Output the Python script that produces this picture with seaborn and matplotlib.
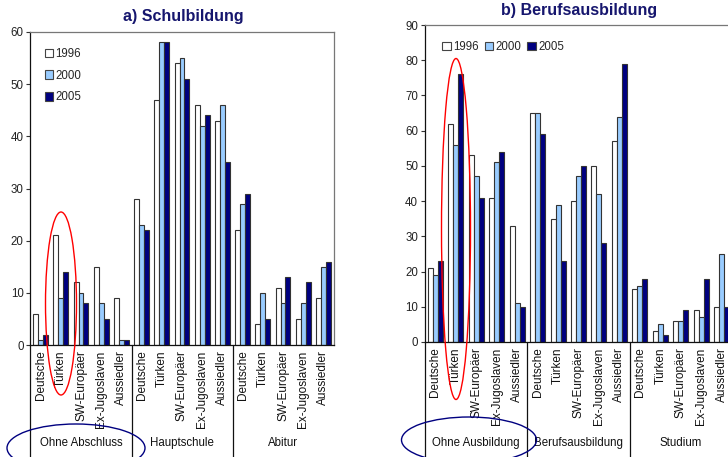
import matplotlib
matplotlib.use("Agg")
import matplotlib.pyplot as plt
import numpy as np
import pandas as pd
import seaborn as sns
from matplotlib.patches import Ellipse, Patch
from matplotlib.lines import Line2D
from matplotlib.transforms import blended_transform_factory

# ---- data -------------------------------------------------------------
years = ["1996", "2000", "2005"]
herkunft = ["Deutsche", "Türken", "SW-Europäer", "Ex-Jugoslaven", "Aussiedler"]
schul_stufen = ["Ohne Abschluss", "Hauptschule", "Abitur"]
beruf_stufen = ["Ohne Ausbildung", "Berufsausbildung", "Studium"]

# Schulbildung (%), ordered stage by stage, origin groups within each stage
schul_1996 = [6, 21, 12, 15, 9, 28, 47, 54, 46, 43, 22, 4, 11, 5, 9]
schul_2000 = [1, 9, 10, 8, 1, 23, 58, 55, 42, 46, 27, 10, 8, 8, 15]
schul_2005 = [2, 14, 8, 5, 1, 22, 58, 51, 44, 35, 29, 5, 13, 12, 16]

# Berufsausbildung (%)
beruf_1996 = [21, 62, 53, 41, 33, 65, 35, 40, 50, 57, 15, 3, 6, 9, 10]
beruf_2000 = [19, 56, 47, 51, 11, 65, 39, 47, 42, 64, 16, 5, 6, 7, 25]
beruf_2005 = [23, 76, 41, 54, 10, 59, 23, 50, 28, 79, 18, 2, 9, 18, 10]

colors = {"1996": "#FFFFFF", "2000": "#99CCFF", "2005": "#000080"}
title_color = "#16166E"

sns.set_theme(style="white")
plt.rcParams["font.family"] = ["Liberation Sans", "DejaVu Sans"]

W, H = 728, 457
fig = plt.figure(figsize=(W / 100, H / 100), dpi=100)


def fx(x):
    return x / W


def fy(y):
    return 1 - y / H


def long_frame(stufen, series):
    rows = []
    for s_i, stufe in enumerate(stufen):
        for h_i, name in enumerate(herkunft):
            idx = s_i * len(herkunft) + h_i
            for year, vals in zip(years, series):
                rows.append({"key": f"{stufe}|{name}", "Jahr": year, "Anteil": vals[idx]})
    return pd.DataFrame(rows)


def draw_panel(ax, stufen, series, ymax, title, title_xy, sep_bottom):
    df = long_frame(stufen, series)
    order = [f"{s}|{n}" for s in stufen for n in herkunft]
    sns.barplot(data=df, x="key", y="Anteil", hue="Jahr", order=order,
                hue_order=years, palette=colors, width=0.73, errorbar=None,
                edgecolor="#333333", linewidth=0.8, saturation=1,
                legend=False, ax=ax)
    ax.set_xlim(-0.5, len(order) - 0.5)
    ax.set_ylim(0, ymax)
    ax.set_yticks(np.arange(0, ymax + 1, 10))
    ax.set_xticks(range(len(order)))
    ax.set_xticklabels(herkunft * len(stufen), rotation=90, fontsize=8.5,
                       color="#111111", va="top", ha="center")
    ax.tick_params(axis="x", length=0, pad=4)
    ax.tick_params(axis="y", length=3, width=0.8, direction="out",
                   labelsize=8.3, labelcolor="#222222", color="#333333", pad=2,
                   left=True)
    ax.set_xlabel("")
    ax.set_ylabel("")
    for side in ["top", "right"]:
        ax.spines[side].set_color("#777777")
        ax.spines[side].set_linewidth(0.9)
    for side in ["left", "bottom"]:
        ax.spines[side].set_color("#111111")
        ax.spines[side].set_linewidth(0.9)
    ax.grid(False)

    # group separators and stage labels below the category labels
    tr = blended_transform_factory(ax.transData, fig.transFigure)
    for xs in [-0.5 + 5 * k for k in range(len(stufen))]:
        ax.add_line(Line2D([xs, xs], [ax.get_position().y0, fy(sep_bottom)],
                           transform=tr, color="#111111", lw=0.9, clip_on=False))
    for k, stufe in enumerate(stufen):
        ax.text(5 * k + 2, fy(443), stufe, transform=tr, ha="center",
                va="center", fontsize=8.3, color="#111111")
    fig.text(fx(title_xy[0]), fy(title_xy[1]), title, ha="center", va="center",
             fontsize=11.5, fontweight="bold", color=title_color)


handles = [Patch(facecolor=colors[y], edgecolor="#444444", linewidth=0.8) for y in years]

# a) Schulbildung
ax1 = fig.add_axes([fx(30.5), fy(345), (333.5 - 30.5) / W, (345 - 32) / H])
draw_panel(ax1, schul_stufen, [schul_1996, schul_2000, schul_2005], 60,
           "a) Schulbildung", (183, 17), 458)
ax1.legend(handles, years, loc="upper left", bbox_to_anchor=(0.02, 0.975),
           frameon=False, fontsize=8.3, handlelength=0.75, handleheight=0.75,
           handletextpad=0.2, labelspacing=0.85, borderpad=0.2)

# b) Berufsausbildung (extends past the right edge)
ax2 = fig.add_axes([fx(425), fy(342), 307 / W, (342 - 25) / H])
draw_panel(ax2, beruf_stufen, [beruf_1996, beruf_2000, beruf_2005], 90,
           "b) Berufsausbildung", (579, 11), 458)
ax2.legend(handles, years, loc="upper left", bbox_to_anchor=(0.03, 0.975),
           frameon=False, fontsize=8.3, ncol=3, handlelength=0.75,
           handleheight=0.75, handletextpad=0.2, columnspacing=0.5,
           borderpad=0.2)

# highlight rings
rings = [
    ((61, 303.5), 31, 183, "#FF0000"),
    ((456, 229), 29, 341, "#FF0000"),
    ((76, 448), 138, 48, "#000080"),
    ((469, 440), 135, 46, "#000080"),
]
for (cx, cy), w, h, col in rings:
    fig.add_artist(Ellipse((fx(cx), fy(cy)), w / W, h / H, transform=fig.transFigure,
                           fill=False, edgecolor=col, linewidth=1.0, clip_on=False))

fig.savefig("out.png", dpi=100, facecolor="white")
